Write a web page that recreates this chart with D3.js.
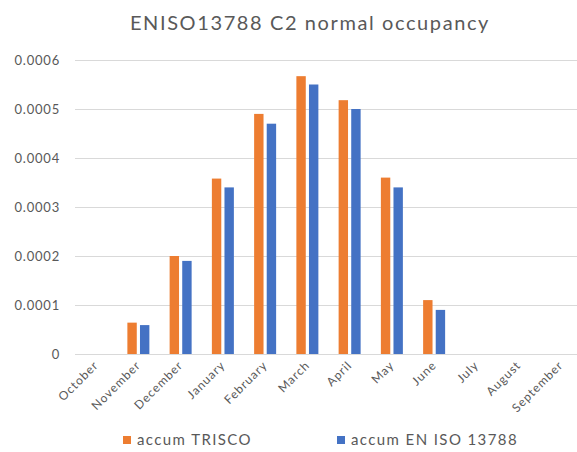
<!DOCTYPE html>
<html><head><meta charset="utf-8">
<script src="https://cdn.jsdelivr.net/npm/d3@7"></script>
<style>body{margin:0;background:#fff}svg{display:block}text{font-family:"Century Gothic","Lato","Open Sans",sans-serif;fill:#595959}</style>
</head><body><svg id="c" width="577" height="452"></svg>
<script>
const months = ["October","November","December","January","February","March","April","May","June","July","August","September"];
const trisco = [0, 0.000064, 0.0002, 0.000358, 0.00049, 0.000567, 0.000518, 0.00036, 0.00011, 0, 0, 0];
const enIso = [0, 0.000059, 0.00019, 0.00034, 0.00047, 0.00055, 0.0005, 0.00034, 0.00009, 0, 0, 0];
const yTicks = [0, 0.0001, 0.0002, 0.0003, 0.0004, 0.0005, 0.0006];
const seriesNames = ["accum TRISCO", "accum EN ISO 13788"];
const colors = ["#ED7D31", "#4472C4"];

(function () {
const svg = d3.select("#c");
const mL = 75, mR = 582, mT = 60, mB = 354;
const ff = '"Century Gothic","Lato","Open Sans",sans-serif';
const x = d3.scaleBand().domain(months).range([mL, mR]).paddingInner(0).paddingOuter(0);
const y = d3.scaleLinear().domain([0, 0.0006]).range([mB, mT]);

svg.append("text").attr("x", 310).attr("y", 30).attr("text-anchor", "middle")
  .style("font-size", "20px").style("letter-spacing", "1.6px").text("ENISO13788 C2 normal occupancy");

const grid = svg.append("g");
grid.selectAll("line").data(yTicks).join("line")
  .attr("x1", mL).attr("x2", mR)
  .attr("y1", d => Math.round(y(d)) + 0.5).attr("y2", d => Math.round(y(d)) + 0.5)
  .attr("stroke", "#d9d9d9").attr("stroke-width", 1);

const yAxis = d3.axisLeft(y).tickValues(yTicks).tickSize(0).tickPadding(15)
  .tickFormat(d => d === 0 ? "0" : d3.format(".4f")(d));
const ya = svg.append("g").attr("transform", `translate(${mL},0)`).call(yAxis);
ya.select(".domain").remove();
ya.selectAll("text").style("font-size", "13px").style("letter-spacing", "0.8px").style("font-family", ff).attr("fill", "#595959");

const barW = 9.4, gap = 3.2;
const data = [trisco, enIso];
data.forEach((vals, si) => {
  svg.append("g").selectAll("rect").data(months).join("rect")
    .attr("x", d => x(d) + x.bandwidth() / 2 - barW - gap / 2 + si * (barW + gap))
    .attr("width", barW)
    .attr("y", (d, i) => y(vals[i]))
    .attr("height", (d, i) => y(0) - y(vals[i]))
    .attr("fill", colors[si]);
});

const xAxis = d3.axisBottom(x).tickSize(0).tickPadding(0);
const xa = svg.append("g").attr("transform", `translate(0,${mB})`).call(xAxis);
xa.select(".domain").remove();
xa.selectAll("text").style("font-size", "12px").style("letter-spacing", "1px").style("font-family", ff).attr("fill", "#595959")
  .attr("text-anchor", "end").attr("dy", "0.35em")
  .attr("transform", "translate(0,9) rotate(-45)").attr("y", 0).attr("x", 0);

const lg = svg.append("g");
const lx = [123, 337];
seriesNames.forEach((n, i) => {
  lg.append("rect").attr("x", lx[i]).attr("y", 436).attr("width", 8).attr("height", 8).attr("fill", colors[i]);
  lg.append("text").attr("x", lx[i] + 14).attr("y", 445).style("font-size", "15px").style("letter-spacing", "1.4px").text(n);
});
})();
</script></body></html>
